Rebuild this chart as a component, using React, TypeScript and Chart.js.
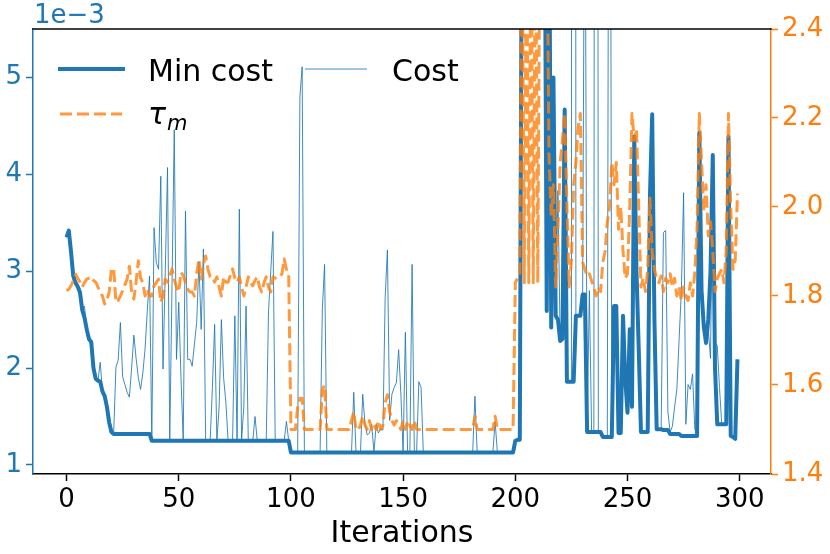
import React, { useEffect, useRef } from "react";
import { Chart, registerables } from "chart.js";

Chart.register(...registerables);

// x tick labels and axis ticks
const xTicks = [0, 50, 100, 150, 200, 250, 300];
const leftTicks = [1, 2, 3, 4, 5];
const rightTicks = [1.4, 1.6, 1.8, 2.0, 2.2, 2.4];

// Min cost (units of 1e-3), iterations 0..299
const minCostE3 = [
  3.35, 3.42, 3.2, 2.95, 2.88, 2.84, 2.78, 2.6, 2.52, 2.4,
  2.3, 2.27, 2.0, 1.89, 1.87, 1.86, 1.76, 1.71, 1.6, 1.44,
  1.34, 1.32, 1.32, 1.32, 1.32, 1.32, 1.32, 1.32, 1.32, 1.32,
  1.32, 1.32, 1.32, 1.32, 1.32, 1.32, 1.32, 1.32, 1.25, 1.25,
  1.25, 1.25, 1.25, 1.25, 1.25, 1.25, 1.25, 1.25, 1.25, 1.25,
  1.25, 1.25, 1.25, 1.25, 1.25, 1.25, 1.25, 1.25, 1.25, 1.25,
  1.25, 1.25, 1.25, 1.25, 1.25, 1.25, 1.25, 1.25, 1.25, 1.25,
  1.25, 1.25, 1.25, 1.25, 1.25, 1.25, 1.25, 1.25, 1.25, 1.25,
  1.25, 1.25, 1.25, 1.25, 1.25, 1.25, 1.25, 1.25, 1.25, 1.25,
  1.25, 1.25, 1.25, 1.25, 1.25, 1.25, 1.25, 1.25, 1.25, 1.25,
  1.13, 1.13, 1.13, 1.13, 1.13, 1.13, 1.13, 1.13, 1.13, 1.13,
  1.13, 1.13, 1.13, 1.13, 1.13, 1.13, 1.13, 1.13, 1.13, 1.13,
  1.13, 1.13, 1.13, 1.13, 1.13, 1.13, 1.13, 1.13, 1.13, 1.13,
  1.13, 1.13, 1.13, 1.13, 1.13, 1.13, 1.13, 1.13, 1.13, 1.13,
  1.13, 1.13, 1.13, 1.13, 1.13, 1.13, 1.13, 1.13, 1.13, 1.13,
  1.13, 1.13, 1.13, 1.13, 1.13, 1.13, 1.13, 1.13, 1.13, 1.13,
  1.13, 1.13, 1.13, 1.13, 1.13, 1.13, 1.13, 1.13, 1.13, 1.13,
  1.13, 1.13, 1.13, 1.13, 1.13, 1.13, 1.13, 1.13, 1.13, 1.13,
  1.13, 1.13, 1.13, 1.13, 1.13, 1.13, 1.13, 1.13, 1.13, 1.13,
  1.13, 1.13, 1.13, 1.13, 1.13, 1.13, 1.13, 1.13, 1.13, 1.13,
  1.25, 1.26, 1.26, 7.5, 7.5, 7.5, 7.5, 7.5, 7.5, 7.5,
  7.5, 7.5, 7.5, 7.5, 2.59, 7.5, 2.42, 5.0, 2.54, 2.5,
  2.28, 2.3, 4.67, 1.86, 1.86, 1.86, 1.86, 2.54, 2.54, 2.54,
  2.76, 2.76, 1.34, 1.34, 1.34, 1.34, 1.34, 1.34, 1.34, 1.29,
  1.29, 1.29, 1.29, 1.29, 2.64, 2.64, 1.33, 1.33, 2.54, 1.89,
  1.54, 2.4, 1.6, 4.39, 3.0, 2.2, 1.34, 1.34, 1.34, 1.34,
  3.77, 4.62, 2.5, 1.37, 1.37, 1.37, 1.36, 1.36, 1.36, 1.32,
  1.32, 1.32, 1.32, 1.32, 1.3, 1.3, 1.3, 1.3, 1.3, 1.3,
  1.3, 1.3, 4.43, 2.8, 2.43, 2.26, 2.5, 3.0, 4.2, 2.0,
  1.42, 1.42, 1.42, 1.42, 1.42, 4.39, 1.3, 1.29, 1.27, 2.09,
];

// Cost (units of 1e-3), iterations 0..299
const costE3 = [
  3.35, 3.42, 3.2, 2.95, 2.88, 2.84, 2.78, 2.6, 2.64, 2.4,
  2.3, 2.27, 2.0, 1.89, 1.87, 2.06, 1.76, 1.71, 1.6, 1.44,
  1.34, 1.32, 2.01, 2.08, 2.47, 1.91, 1.83, 1.75, 1.7, 2.0,
  2.34, 2.1, 1.9, 1.78, 1.95, 2.2, 2.6, 2.95, 1.25, 3.45,
  3.09, 3.02, 3.98, 1.99, 3.0, 4.07, 1.25, 2.85, 4.46, 2.09,
  2.68, 1.9, 1.25, 3.62, 2.09, 2.09, 2.02, 2.25, 2.47, 3.1,
  2.4, 3.23, 1.25, 1.25, 1.25, 1.8, 2.45, 1.25, 1.6, 2.5,
  1.9, 1.65, 1.25, 1.25, 1.25, 2.54, 1.25, 3.64, 1.25, 1.6,
  2.64, 1.25, 1.25, 1.25, 1.5, 1.25, 1.25, 1.25, 1.25, 1.25,
  2.58, 3.0, 3.41, 1.25, 1.25, 1.25, 1.25, 1.25, 1.45, 1.25,
  1.13, 1.13, 1.13, 1.13, 4.8, 5.11, 1.13, 1.13, 1.13, 1.13,
  1.13, 1.13, 1.13, 1.13, 2.61, 3.07, 1.13, 1.13, 1.13, 1.13,
  1.13, 1.13, 1.13, 1.13, 1.13, 1.13, 1.13, 1.13, 1.75, 1.13,
  1.13, 1.13, 1.73, 1.42, 1.31, 1.33, 1.42, 1.13, 1.42, 1.33,
  1.38, 1.36, 2.73, 3.22, 1.46, 1.73, 1.8, 1.85, 2.19, 1.73,
  1.13, 2.37, 1.13, 1.13, 3.07, 1.13, 1.13, 1.86, 1.8, 1.13,
  1.13, 1.13, 1.13, 1.13, 1.13, 1.13, 1.13, 1.13, 1.13, 1.13,
  1.13, 1.13, 1.13, 1.13, 1.13, 1.13, 1.13, 1.13, 1.13, 1.13,
  1.13, 1.13, 1.71, 1.13, 1.13, 1.13, 1.13, 1.13, 1.13, 1.13,
  1.13, 1.45, 1.13, 1.13, 1.13, 1.13, 1.13, 1.13, 1.13, 1.13,
  1.25, 1.26, 1.26, 7.5, 7.5, 7.5, 7.5, 7.5, 7.5, 7.5,
  7.5, 7.5, 7.5, 7.5, 2.59, 7.5, 2.42, 5.0, 2.54, 3.83,
  2.28, 2.3, 4.67, 1.86, 1.86, 1.86, 60, 2.54, 2.54, 2.54,
  2.76, 8, 1.34, 2.8, 1.34, 1.34, 30, 1.34, 1.34, 1.29,
  1.29, 1.29, 12, 1.29, 2.64, 2.64, 1.33, 1.33, 2.54, 1.89,
  1.54, 2.4, 1.6, 4.39, 3.0, 2.2, 1.34, 1.34, 1.34, 1.34,
  3.77, 4.62, 2.5, 1.37, 1.37, 1.37, 3.4, 3.42, 1.55, 1.34,
  1.4, 1.6, 1.78, 2.3, 2.8, 3.81, 1.42, 1.83, 1.78, 1.94,
  1.37, 1.3, 4.43, 3.0, 2.43, 2.3, 2.4, 2.1, 4.2, 2.27,
  2.23, 1.8, 1.42, 1.42, 1.42, 4.39, 1.3, 1.29, 1.27, 2.09,
];

// tau_m (right axis), iterations 0..299
const tauM = [
  1.812, 1.815, 1.823, 1.835, 1.849, 1.84, 1.831, 1.82, 1.83, 1.838,
  1.84, 1.843, 1.835, 1.831, 1.82, 1.81, 1.8, 1.782, 1.79, 1.809,
  1.861, 1.862, 1.786, 1.79, 1.8, 1.812, 1.825, 1.838, 1.867, 1.809,
  1.793, 1.831, 1.879, 1.84, 1.83, 1.8, 1.815, 1.8, 1.8, 1.823,
  1.83, 1.838, 1.786, 1.8, 1.838, 1.831, 1.845, 1.861, 1.838, 1.82,
  1.809, 1.853, 1.846, 1.83, 1.815, 1.809, 1.809, 1.8, 1.85, 1.883,
  1.838, 1.87, 1.89, 1.861, 1.843, 1.843, 1.831, 1.843, 1.82, 1.8,
  1.843, 1.831, 1.831, 1.846, 1.861, 1.84, 1.831, 1.843, 1.82, 1.8,
  1.82, 1.843, 1.83, 1.823, 1.835, 1.843, 1.82, 1.809, 1.83, 1.843,
  1.82, 1.809, 1.843, 1.84, 1.843, 1.843, 1.85, 1.883, 1.86, 1.85,
  1.5, 1.5, 1.5, 1.55, 1.57, 1.57, 1.5, 1.5, 1.5, 1.5,
  1.5, 1.5, 1.5, 1.5, 1.59, 1.6, 1.5, 1.5, 1.5, 1.5,
  1.5, 1.5, 1.5, 1.5, 1.5, 1.5, 1.5, 1.52, 1.54, 1.5,
  1.5, 1.51, 1.53, 1.51, 1.5, 1.52, 1.5, 1.51, 1.5, 1.52,
  1.5, 1.51, 1.56, 1.578, 1.54, 1.52, 1.51, 1.52, 1.51, 1.5,
  1.52, 1.5, 1.52, 1.51, 1.5, 1.52, 1.5, 1.5, 1.5, 1.5,
  1.5, 1.5, 1.5, 1.5, 1.5, 1.5, 1.5, 1.5, 1.5, 1.5,
  1.5, 1.5, 1.5, 1.5, 1.5, 1.5, 1.5, 1.5, 1.5, 1.5,
  1.5, 1.5, 1.53, 1.5, 1.5, 1.5, 1.5, 1.5, 1.5, 1.5,
  1.5, 1.53, 1.5, 1.5, 1.5, 1.5, 1.5, 1.5, 1.5, 1.5,
  1.83, 1.84, 1.845, 2.7, 1.83, 2.7, 1.83, 2.7, 1.83, 2.7,
  1.83, 2.7, 2.7, 2.7, 2.7, 2.12, 1.98, 2.05, 1.82, 1.95,
  2.1, 2.15, 2.21, 2.0, 1.82, 1.88, 2.05, 2.1, 2.18, 2.21,
  1.876, 1.86, 1.845, 1.85, 1.834, 1.82, 1.8, 1.82, 1.81, 1.876,
  1.9, 1.966, 2.0, 2.1, 2.05, 2.1, 1.95, 2.0, 1.9, 1.84,
  1.85, 2.0, 2.21, 2.15, 2.175, 2.0, 1.82, 1.84, 1.81, 1.86,
  2.02, 1.9, 1.86, 1.84, 1.83, 1.845, 1.81, 1.84, 1.83, 1.85,
  1.82, 1.84, 1.8, 1.82, 1.79, 1.82, 1.8, 1.79, 1.83, 1.8,
  1.854, 1.95, 2.21, 2.1, 1.99, 2.05, 1.935, 1.967, 1.9, 1.81,
  1.84, 1.85, 1.86, 1.83, 1.9, 2.21, 2.0, 1.86, 1.88, 2.03,
];

const BLUE = "#1f77b4";
const BLUE_THIN = "rgba(31,119,180,0.85)";
const ORANGE = "#ff7f0e";
const ORANGE_A = "rgba(255,127,14,0.8)";
const FONT = '"DejaVu Sans", "Liberation Sans", sans-serif';
const DASH = [12, 5];

const toPoints = (arr: number[]) => arr.map((y, i) => ({ x: i, y }));

const extrasPlugin = {
  id: "extras",
  afterDraw(chart: any) {
    const ctx = chart.ctx as CanvasRenderingContext2D;
    const { left, right, top } = chart.chartArea;
    ctx.save();
    // top spine
    ctx.strokeStyle = "#000";
    ctx.lineWidth = 1.5;
    ctx.beginPath();
    ctx.moveTo(left - 0.75, top);
    ctx.lineTo(right + 0.75, top);
    ctx.stroke();

    // offset text
    ctx.fillStyle = BLUE;
    ctx.font = `26px ${FONT}`;
    ctx.textBaseline = "alphabetic";
    ctx.textAlign = "left";
    ctx.fillText("1e\u22123", left + 1, 23);

    // legend
    const rowY1 = top + 40;
    const rowY2 = top + 85;
    ctx.lineCap = "butt";
    ctx.strokeStyle = BLUE;
    ctx.lineWidth = 4;
    ctx.beginPath();
    ctx.moveTo(left + 25, rowY1);
    ctx.lineTo(left + 92, rowY1);
    ctx.stroke();

    ctx.strokeStyle = BLUE_THIN;
    ctx.lineWidth = 1;
    ctx.beginPath();
    ctx.moveTo(left + 272, rowY1);
    ctx.lineTo(left + 334, rowY1);
    ctx.stroke();

    ctx.strokeStyle = ORANGE_A;
    ctx.lineWidth = 3;
    ctx.setLineDash(DASH);
    ctx.beginPath();
    ctx.moveTo(left + 27, rowY2);
    ctx.lineTo(left + 89, rowY2);
    ctx.stroke();
    ctx.setLineDash([]);

    ctx.fillStyle = "#000";
    ctx.font = `30px ${FONT}`;
    ctx.fillText("Min cost", left + 115, rowY1 + 12);
    ctx.fillText("Cost", left + 359, rowY1 + 12);

    ctx.font = `italic 30px ${FONT}`;
    ctx.fillText("\u03c4", left + 115, rowY2 + 10);
    const tw = ctx.measureText("\u03c4").width;
    ctx.font = `italic 21px ${FONT}`;
    ctx.fillText("m", left + 115 + tw + 1, rowY2 + 16);
    ctx.restore();
  },
};

export default function App() {
  const canvasRef = useRef<HTMLCanvasElement | null>(null);

  useEffect(() => {
    if (!canvasRef.current) return;
    const chart = new Chart(canvasRef.current, {
      type: "line",
      data: {
        datasets: [
          {
            label: "\u03c4_m",
            data: toPoints(tauM),
            yAxisID: "y2",
            borderColor: ORANGE_A,
            borderWidth: 3,
            borderDash: DASH,
            pointRadius: 0,
            tension: 0,
            borderJoinStyle: "round",
            clip: 0,
            order: 0,
          } as any,
          {
            label: "Cost",
            data: toPoints(costE3),
            yAxisID: "y",
            borderColor: BLUE_THIN,
            borderWidth: 1,
            pointRadius: 0,
            tension: 0,
            clip: 0,
            order: 1,
          } as any,
          {
            label: "Min cost",
            data: toPoints(minCostE3),
            yAxisID: "y",
            borderColor: BLUE,
            borderWidth: 4,
            pointRadius: 0,
            tension: 0,
            borderJoinStyle: "round",
            clip: 0,
            order: 2,
          } as any,
        ],
      },
      options: {
        animation: false,
        responsive: false,
        devicePixelRatio: 1,
        layout: { padding: { top: 29, left: 0, right: 0, bottom: 0 } },
        plugins: {
          legend: { display: false },
          tooltip: { enabled: false },
        },
        scales: {
          x: {
            type: "linear",
            position: "bottom",
            min: -14.95,
            max: 313.95,
            afterBuildTicks: (s: any) => {
              s.ticks = xTicks.map((v) => ({ value: v }));
            },
            afterFit: (s: any) => {
              s.height = 80;
            },
            ticks: {
              color: "#000",
              font: { family: FONT, size: 26 },
              padding: 4,
              maxRotation: 0,
              autoSkip: false,
            },
            grid: {
              drawOnChartArea: false,
              drawTicks: true,
              tickLength: 7,
              tickColor: "#000",
              tickWidth: 1.5,
            },
            border: { display: true, color: "#000", width: 1.5 },
            title: {
              display: true,
              text: "Iterations",
              color: "#000",
              font: { family: FONT, size: 30 },
              padding: { top: 0, bottom: 2 },
            },
          },
          y: {
            type: "linear",
            position: "left",
            min: 0.907,
            max: 5.5,
            afterBuildTicks: (s: any) => {
              s.ticks = leftTicks.map((v) => ({ value: v }));
            },
            afterFit: (s: any) => {
              s.width = 33;
            },
            ticks: {
              color: BLUE,
              font: { family: FONT, size: 26 },
              padding: 4,
              callback: (v: any) => String(v),
            },
            grid: {
              drawOnChartArea: false,
              drawTicks: true,
              tickLength: 7,
              tickColor: BLUE,
              tickWidth: 1.5,
            },
            border: { display: true, color: BLUE, width: 1.5 },
          },
          y2: {
            type: "linear",
            position: "right",
            min: 1.4,
            max: 2.4,
            afterBuildTicks: (s: any) => {
              s.ticks = rightTicks.map((v) => ({ value: v }));
            },
            afterFit: (s: any) => {
              s.width = 59;
            },
            ticks: {
              color: ORANGE,
              font: { family: FONT, size: 26 },
              padding: 4,
              callback: (v: any) => Number(v).toFixed(1),
            },
            grid: {
              drawOnChartArea: false,
              drawTicks: true,
              tickLength: 7,
              tickColor: ORANGE,
              tickWidth: 1.5,
            },
            border: { display: true, color: ORANGE, width: 1.5 },
          },
        },
      } as any,
      plugins: [extrasPlugin],
    });
    return () => chart.destroy();
  }, []);

  return (
    <div style={{ position: "absolute", left: 0, top: 0, width: 830, height: 554, background: "#fff" }}>
      <canvas ref={canvasRef} width={830} height={554} style={{ width: 830, height: 554, display: "block" }} />
    </div>
  );
}
